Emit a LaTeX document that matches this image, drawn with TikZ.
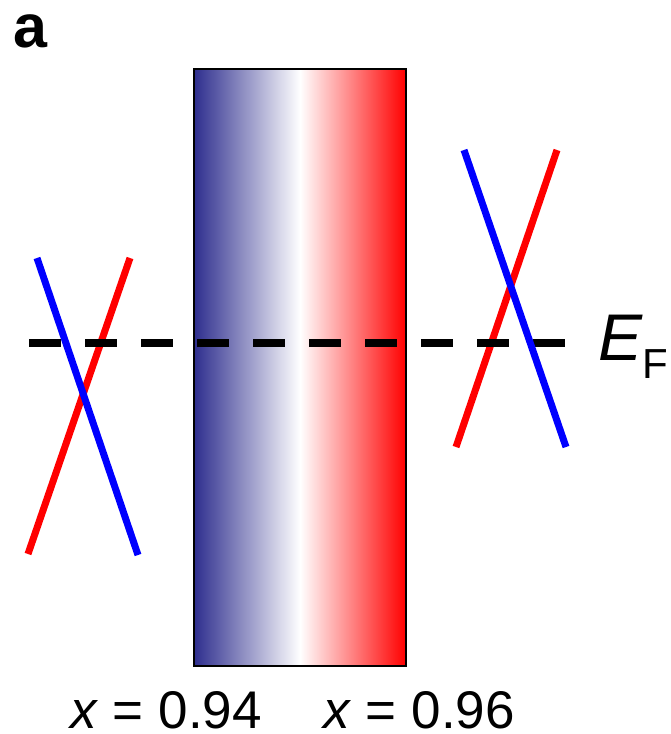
\documentclass[tikz,border=0pt]{standalone}
\usepackage{fontspec}
\setmainfont{Liberation Sans}
\definecolor{navyL}{RGB}{46,46,142}
\definecolor{pureblue}{RGB}{0,0,255}
\definecolor{purered}{RGB}{255,0,0}
\tikzset{
  band/.style={line width=7pt, line cap=butt},
  fermi/.style={line width=8pt, dash pattern=on 32pt off 24pt, black},
  lbl/.style={inner sep=0pt, outer sep=0pt, anchor=base, text depth=0pt},
}
\begin{document}
\begin{tikzpicture}[x=1pt,y=-1pt]
\useasboundingbox (0,0) rectangle (671,734);
% gradient bar
\node[rectangle, draw=black, line width=2pt, minimum width=212pt, minimum height=597pt, inner sep=0pt,
  left color=navyL, right color=purered, middle color=white] (bar) at (300,367.5) {};
% coordinates
\coordinate (lbT) at (37,258); \coordinate (lbB) at (138,555);
\coordinate (lrT) at (130,258); \coordinate (lrB) at (28,554);
\coordinate (rrT) at (557,150); \coordinate (rrB) at (456,447);
\coordinate (rbT) at (464,150); \coordinate (rbB) at (566,447);
\coordinate (efL) at (29,342.5); \coordinate (efR) at (565,342.5);
% red bands
\draw[band, purered] (lrT) -- (lrB);
\draw[band, purered] (rrT) -- (rrB);
% Fermi level
\draw[fermi] (efL) -- (efR);
% blue bands
\draw[band, pureblue] (lbT) -- (lbB);
\draw[band, pureblue] (rbT) -- (rbB);
% labels
\node[inner sep=0pt, anchor=base west] (panel) at (13,47) {\fontsize{61}{64}\selectfont\bfseries a};
\node[inner sep=0pt, anchor=base west] (EF) at (598,360) {\fontsize{66}{70}\selectfont\textit{E}\raisebox{-18pt}{\fontsize{42}{44}\selectfont F}};
\node[lbl] (x1) at (166,728) {\fontsize{53}{56}\selectfont\textit{x} = 0.94};
\node[lbl] (x2) at (419,728) {\fontsize{53}{56}\selectfont\textit{x} = 0.96};
\end{tikzpicture}
\end{document}
